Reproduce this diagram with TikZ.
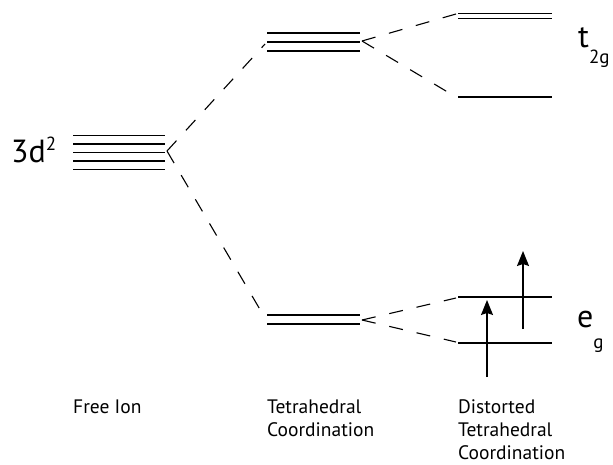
\documentclass[tikz,border=0pt]{standalone}
\usepackage{fontspec}
\setmainfont{PT Sans}
\usetikzlibrary{arrows.meta}
\tikzstyle{level} = [line width=1.1pt]
\tikzstyle{split} = [line width=1.1pt, dash pattern=on 14pt off 14pt]
\tikzstyle{spin} = [line width=1.4pt, -{Stealth[length=15pt, width=12pt, inset=2pt]}]
\tikzstyle{big} = [anchor=base west, inner sep=0pt, font=\fontsize{32}{38}\selectfont]
\tikzstyle{caption} = [anchor=base west, inner sep=0pt, align=left, font=\fontsize{19.5}{23}\selectfont]
\newcommand{\lblidx}[1]{{\fontsize{19}{19}\selectfont #1}}

\begin{document}
\begin{tikzpicture}[x=1pt, y=-1pt]
			\useasboundingbox (0,0) rectangle (613,464);
			\foreach \y in {135.5,144,152.5,161,169.5}
				\draw[level] (73,\y) -- (165,\y);
			\foreach \y in {33,42,51,315,324}
				\draw[level] (267,\y) -- (360,\y);
			\foreach \y in {13.5,18.5,97,297,343}
				\draw[level] (458,\y) -- (552,\y);
			
			\coordinate (ion)       at (167,151);
			\coordinate (t2 left)   at (265,44);
			\coordinate (t2 right)  at (362,41);
			\coordinate (e left)    at (265,318);
			\coordinate (e right)   at (362,320);
			\coordinate (t2 top)    at (456,14);
			\coordinate (t2 low)    at (456,97);
			\coordinate (e top)     at (456,298);
			\coordinate (e low)     at (456,342);
			\coordinate (spin1 tail) at (487,377);
			\coordinate (spin1 head) at (487,300);
			\coordinate (spin2 tail) at (523,329);
			\coordinate (spin2 head) at (523,251);
			
			\node[big] (ion label) at (11,162) {3d\raisebox{12pt}{\lblidx{2}}};
			\node[big] (t2g label) at (578,47)  {t\raisebox{-16pt}{\lblidx{2g}}};
			\node[big] (eg label)  at (577,327) {e\raisebox{-21pt}{\lblidx{g}}};
			
			\node[caption] (free text)    at (73,413)  {Free Ion};
			\node[caption] (tetra text)   at (267,436) {Tetrahedral\\Coordination};
			\node[caption] (distort text) at (458,459) {Distorted\\Tetrahedral\\Coordination};
			
			\draw[split] (ion) -- (t2 left);
			\draw[split] (ion) -- (e left);
			\draw[split] (t2 right) -- (t2 top);
			\draw[split] (t2 right) -- (t2 low);
			\draw[split] (e right) -- (e top);
			\draw[split] (e right) -- (e low);
			\draw[spin] (spin1 tail) -- (spin1 head);
			\draw[spin] (spin2 tail) -- (spin2 head);
		\end{tikzpicture}
\end{document}
